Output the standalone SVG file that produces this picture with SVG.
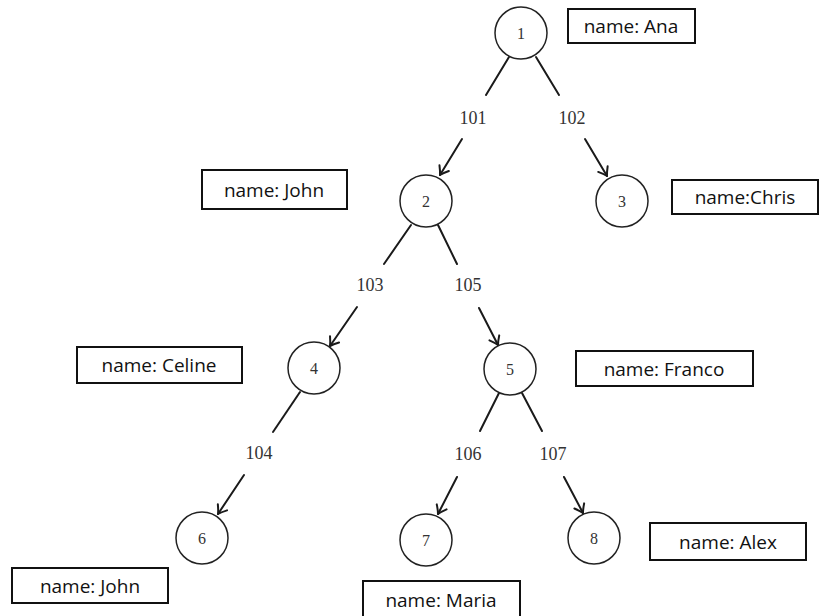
<svg xmlns="http://www.w3.org/2000/svg" width="819" height="616" viewBox="0 0 819 616">
  <defs>
    <marker id="arrow" viewBox="-10 -7 12 14" refX="0" refY="0" markerWidth="12" markerHeight="14" markerUnits="userSpaceOnUse" orient="auto">
      <path d="M -8 -5.5 Q -3 -1.5 0 0 Q -3 1.5 -8 5.5" fill="none" stroke="#1a1a1a" stroke-width="2" stroke-linecap="round" stroke-linejoin="round"/>
    </marker>
    <style>
      .node circle { fill: #ffffff; stroke: #222222; stroke-width: 1.5; }
      .num { font-family: "Liberation Serif", "DejaVu Serif", serif; font-size: 16px; fill: #333333; text-anchor: middle; }
      .edge { stroke: #1a1a1a; stroke-width: 2; fill: none; stroke-linecap: round; }
      .elabel { font-family: "Liberation Serif", "DejaVu Serif", serif; font-size: 18px; fill: #333333; text-anchor: middle; }
      .tag rect { fill: #ffffff; stroke: #111111; stroke-width: 2; }
      .tag text { font-family: "Open Sans", "Liberation Sans", sans-serif; font-size: 19px; fill: #111111; text-anchor: middle; }
    </style>
  </defs>

  <rect width="819" height="616" fill="#ffffff"/>

  <!-- connectors: each edge runs parent -> label -> child -->
  <g id="connectors">
    <line class="edge" x1="509" y1="57" x2="486" y2="95"/>
    <line class="edge" x1="462" y1="139" x2="440" y2="175" marker-end="url(#arrow)"/>
    <text class="elabel" x="473" y="124">101</text>

    <line class="edge" x1="536" y1="57" x2="559" y2="95"/>
    <line class="edge" x1="585" y1="139" x2="607" y2="176" marker-end="url(#arrow)"/>
    <text class="elabel" x="572" y="124">102</text>

    <line class="edge" x1="411" y1="225" x2="384" y2="264"/>
    <line class="edge" x1="357" y1="307" x2="330" y2="346" marker-end="url(#arrow)"/>
    <text class="elabel" x="370" y="291">103</text>

    <line class="edge" x1="438" y1="225" x2="457" y2="264"/>
    <line class="edge" x1="479" y1="308" x2="498" y2="345" marker-end="url(#arrow)"/>
    <text class="elabel" x="468" y="291">105</text>

    <line class="edge" x1="300" y1="392" x2="273" y2="432"/>
    <line class="edge" x1="244" y1="475" x2="218" y2="514" marker-end="url(#arrow)"/>
    <text class="elabel" x="259" y="459">104</text>

    <line class="edge" x1="499" y1="393" x2="480" y2="431"/>
    <line class="edge" x1="457" y1="477" x2="438" y2="514" marker-end="url(#arrow)"/>
    <text class="elabel" x="468" y="460">106</text>

    <line class="edge" x1="522" y1="393" x2="542" y2="431"/>
    <line class="edge" x1="564" y1="477" x2="583" y2="513" marker-end="url(#arrow)"/>
    <text class="elabel" x="553" y="460">107</text>
  </g>

  <!-- tree nodes -->
  <g id="node-1" class="node"><circle cx="521" cy="33" r="26"/><text class="num" x="521" y="39">1</text></g>
  <g id="node-2" class="node"><circle cx="426" cy="201" r="26"/><text class="num" x="426" y="207">2</text></g>
  <g id="node-3" class="node"><circle cx="622" cy="201" r="26"/><text class="num" x="622" y="207">3</text></g>
  <g id="node-4" class="node"><circle cx="314" cy="368" r="26"/><text class="num" x="314" y="374">4</text></g>
  <g id="node-5" class="node"><circle cx="510" cy="369" r="26"/><text class="num" x="510" y="375">5</text></g>
  <g id="node-6" class="node"><circle cx="202" cy="538" r="26"/><text class="num" x="202" y="544">6</text></g>
  <g id="node-7" class="node"><circle cx="426" cy="540" r="26"/><text class="num" x="426" y="546">7</text></g>
  <g id="node-8" class="node"><circle cx="594" cy="538" r="26"/><text class="num" x="594" y="544">8</text></g>

  <!-- name tags -->
  <g id="tag-1" class="tag"><rect x="568" y="9" width="127" height="34"/><text x="631" y="33">name: Ana</text></g>
  <g id="tag-2" class="tag"><rect x="202" y="170" width="145" height="39"/><text x="274" y="197">name: John</text></g>
  <g id="tag-3" class="tag"><rect x="672" y="180" width="146" height="34"/><text x="745" y="204">name:Chris</text></g>
  <g id="tag-4" class="tag"><rect x="77" y="347" width="165" height="36"/><text x="159" y="372">name: Celine</text></g>
  <g id="tag-5" class="tag"><rect x="576" y="351" width="177" height="35"/><text x="664" y="376">name: Franco</text></g>
  <g id="tag-6" class="tag"><rect x="12" y="568" width="156" height="35"/><text x="90" y="593">name: John</text></g>
  <g id="tag-7" class="tag"><rect x="363" y="581" width="157" height="40"/><text x="441" y="607">name: Maria</text></g>
  <g id="tag-8" class="tag"><rect x="650" y="523" width="156" height="37"/><text x="728" y="549">name: Alex</text></g>
</svg>
